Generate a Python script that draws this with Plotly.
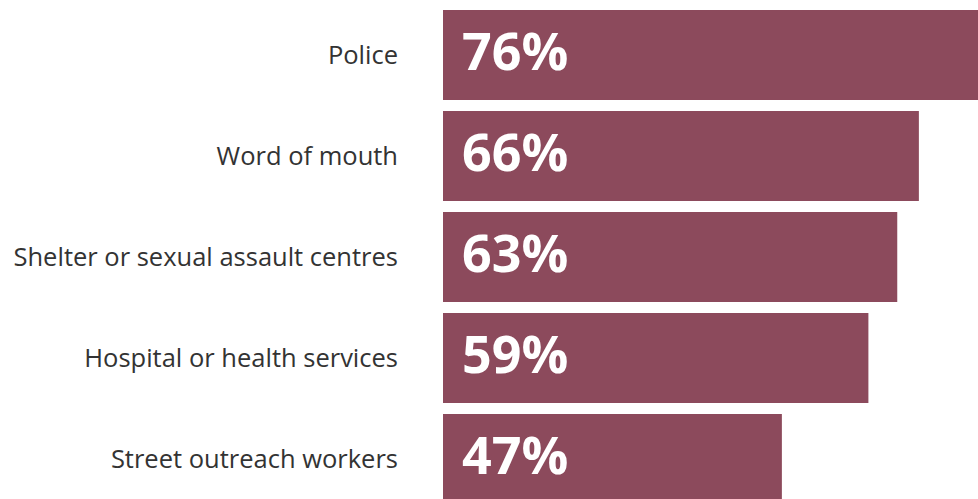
import plotly.graph_objects as go

categories = ["Police", "Word of mouth", "Shelter or sexual assault centres",
              "Hospital or health services", "Street outreach workers"]
values = [76, 66, 63, 59, 47]
labels = ["76%", "66%", "63%", "59%", "47%"]

bar_color = "#8C4A5C"
x_max = 74.2

fig = go.Figure()
fig.add_trace(go.Bar(
    y=categories, x=values, orientation="h",
    marker=dict(color=bar_color, line=dict(width=0)),
    width=0.89, hoverinfo="skip",
))

for cat, lab in zip(categories, labels):
    fig.add_annotation(
        x=0, y=cat, xref="x", yref="y", text=lab, showarrow=False,
        xanchor="left", yanchor="middle", xshift=17, yshift=6,
        font=dict(family="Open Sans", size=52, color="white", weight="bold"),
    )

fig.update_layout(
    width=978, height=499,
    margin=dict(l=443, r=0, t=0, b=0),
    paper_bgcolor="white", plot_bgcolor="white",
    showlegend=False,
    xaxis=dict(range=[0, x_max], visible=False, fixedrange=True),
    yaxis=dict(
        type="category", categoryorder="array", categoryarray=categories,
        range=[4.396, -0.545], showgrid=False, zeroline=False, showline=False,
        ticks="", ticklabelstandoff=44, fixedrange=True,
        tickfont=dict(family="Open Sans", size=25.5, color="#333333"),
    ),
)

fig.write_html("out.html",
               config={"displayModeBar": False, "staticPlot": True},
               post_script="document.body.style.margin='0';document.body.style.overflow='hidden';")
